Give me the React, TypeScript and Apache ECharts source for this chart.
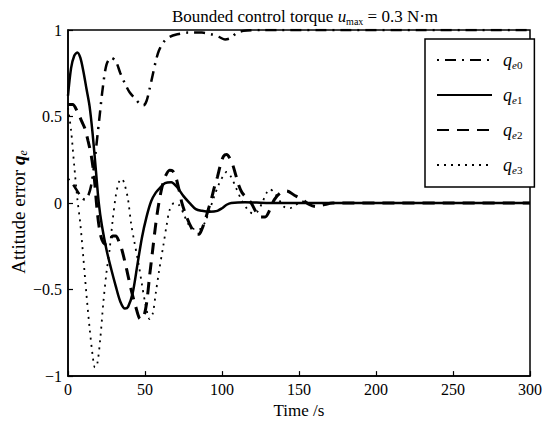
import React, { useEffect, useRef } from "react";
import * as echarts from "echarts";

const xTicks = [0, 50, 100, 150, 200, 250, 300];
const yTicks = [-1, -0.5, 0, 0.5, 1];
const seriesNames = ["qe0", "qe1", "qe2", "qe3"];
const seriesSubs = ["0", "1", "2", "3"];

const qe0: [number, number][] = [
  [0, 0.14], [3, 0.11], [6, 0.07], [9, 0.03], [11, 0.02], [13, 0.04], [15, 0.1], [17, 0.22],
  [19, 0.38], [20.5, 0.5], [22.5, 0.66], [25, 0.8], [28, 0.84], [31, 0.82], [34, 0.75],
  [37, 0.69], [40, 0.64], [44, 0.6], [47, 0.57], [49, 0.565], [51, 0.59], [53, 0.66],
  [55, 0.74], [57, 0.82], [59, 0.88], [62, 0.93], [66, 0.96], [71, 0.975], [78, 0.985],
  [87, 0.985], [93, 0.975], [98, 0.96], [102, 0.945], [106, 0.955], [109, 0.98], [114, 0.995],
  [125, 1], [300, 1],
];
const qe1: [number, number][] = [
  [0, 0.62], [2, 0.78], [4, 0.85], [6, 0.87], [8, 0.84], [10, 0.76], [12, 0.66], [14, 0.56],
  [16, 0.4], [18, 0.2], [20, 0.0], [22, -0.13], [25, -0.27], [28, -0.38], [31, -0.48],
  [34, -0.57], [37, -0.61], [39, -0.6], [42, -0.52], [45, -0.36], [48, -0.2], [51, -0.08],
  [54, 0.01], [57, 0.06], [60, 0.09], [63, 0.115], [67, 0.12], [71, 0.09], [75, 0.04],
  [79, 0.0], [83, -0.035], [87, -0.045], [92, -0.05], [97, -0.045], [100, -0.03],
  [103, -0.01], [106, 0.0], [115, 0.005], [130, 0.0], [300, 0],
];
const qe2: [number, number][] = [
  [0, 0.57], [3, 0.57], [6, 0.53], [9, 0.47], [11, 0.43], [13, 0.36], [15, 0.28], [17, 0.15],
  [19, -0.05], [21, -0.18], [23, -0.23], [25, -0.24], [27, -0.22], [29, -0.19], [31, -0.19],
  [33, -0.22], [35, -0.27], [38, -0.38], [41, -0.5], [44, -0.6], [47, -0.67], [49, -0.66],
  [51, -0.58], [53, -0.42], [55, -0.27], [57, -0.12], [59, 0.0], [61, 0.09], [63, 0.15],
  [66, 0.19], [68, 0.185], [70, 0.15], [72, 0.08], [74, 0.0], [77, -0.08], [80, -0.14],
  [83, -0.18], [85, -0.18], [87, -0.15], [89, -0.1], [91, -0.04], [93, 0.02], [95, 0.09],
  [97, 0.15], [99, 0.22], [101, 0.27], [103, 0.28], [105, 0.26], [107, 0.22], [109, 0.16],
  [111, 0.1], [113, 0.06], [116, 0.03], [119, 0.0], [122, -0.05], [125, -0.08], [128, -0.08],
  [131, -0.04], [134, 0.02], [138, 0.06], [142, 0.07], [147, 0.045], [152, 0.02],
  [157, -0.01], [161, -0.02], [166, -0.01], [172, 0], [300, 0],
];
const qe3: [number, number][] = [
  [0, 0.55], [2, 0.42], [4, 0.22], [6, 0.03], [8, -0.12], [10, -0.32], [12, -0.53],
  [14, -0.72], [16, -0.88], [17.5, -0.95], [19, -0.93], [21, -0.78], [23, -0.57], [25, -0.4],
  [27, -0.27], [29, -0.1], [31, 0.04], [33, 0.12], [35, 0.14], [37, 0.1], [39, 0.02],
  [41, -0.12], [43, -0.22], [46, -0.36], [48, -0.47], [50, -0.57], [53, -0.67], [55, -0.64],
  [57, -0.52], [59, -0.4], [62, -0.24], [64, -0.13], [66, -0.04], [69, 0.0], [72, -0.01],
  [75, -0.06], [78, -0.12], [82, -0.15], [86, -0.15], [89, -0.11], [92, -0.04], [95, 0.04],
  [98, 0.11], [101, 0.16], [103, 0.18], [106, 0.15], [109, 0.09], [112, 0.03], [116, -0.03],
  [120, -0.06], [123, -0.05], [126, 0.0], [129, 0.06], [131, 0.08], [134, 0.06], [137, 0.02],
  [140, -0.02], [144, -0.03], [148, -0.01], [152, 0.01], [158, 0], [300, 0],
];

const FONT = "Liberation Serif";

export default function App() {
  const ref = useRef<HTMLDivElement>(null);
  useEffect(() => {
    if (!ref.current) return;
    const chart = echarts.init(ref.current, undefined, { renderer: "svg" });
    const datas = [qe0, qe1, qe2, qe3];
    const styles = [
      { type: [2, 6, 11, 6], width: 2.5 },
      { type: "solid", width: 2.5 },
      { type: [12, 8], width: 3 },
      { type: [2, 5], width: 1.8 },
    ];
    const subRich = {
      q: { fontFamily: FONT, fontStyle: "italic", fontSize: 18, color: "#000", padding: [0, 0, 0, 6], lineHeight: 20 },
      e: { fontFamily: FONT, fontStyle: "italic", fontSize: 11, color: "#000", verticalAlign: "bottom", lineHeight: 11 },
      n: { fontFamily: FONT, fontSize: 11, color: "#000", verticalAlign: "bottom", lineHeight: 11 },
    };
    chart.setOption({
      animation: false,
      backgroundColor: "#fff",
      grid: { left: 68, right: 5, top: 30, bottom: 43, show: true, borderColor: "#000", borderWidth: 1.5, backgroundColor: "transparent" },
      xAxis: {
        type: "value", min: 0, max: 300, interval: 50,
        axisLine: { onZero: false, lineStyle: { color: "#000", width: 1.5 } },
        axisTick: { inside: true, length: 5, lineStyle: { color: "#000", width: 1.2 } },
        axisLabel: { color: "#000", fontFamily: FONT, fontSize: 16, margin: 5, formatter: (v: number) => (xTicks.includes(v) ? String(v) : "") },
        splitLine: { show: false },
        name: "Time /s", nameLocation: "middle", nameGap: 23,
        nameTextStyle: { color: "#000", fontFamily: FONT, fontSize: 17 },
      },
      yAxis: {
        type: "value", min: -1, max: 1, interval: 0.5,
        axisLine: { onZero: false, lineStyle: { color: "#000", width: 1.5 } },
        axisTick: { inside: true, length: 5, lineStyle: { color: "#000", width: 1.2 } },
        axisLabel: {
          color: "#000", fontFamily: FONT, fontSize: 16, margin: 6,
          formatter: (v: number) => (yTicks.includes(v) ? (v < 0 ? "\u2212" + Math.abs(v) : String(v)) : ""),
        },
        splitLine: { show: false },
      },
      legend: {
        orient: "vertical", left: 425, top: 39,
        padding: [12, 12, 12, 11], itemGap: 16, itemWidth: 55, itemHeight: 14,
        borderColor: "#000", borderWidth: 1.5, backgroundColor: "#fff",
        itemStyle: { opacity: 0 },
        data: seriesNames,
        formatter: (name: string) => `{q|q}{e|e}{n|${seriesSubs[seriesNames.indexOf(name)]}}`,
        textStyle: { rich: subRich },
      },
      graphic: [
        {
          type: "text", x: 305, y: 16, z: 10,
          style: {
            text: "{n|Bounded control torque }{u|u}{s|max}{n| = 0.3 N\u00b7m}",
            align: "center", verticalAlign: "middle",
            rich: {
              n: { fontFamily: FONT, fontSize: 17, color: "#000", lineHeight: 20 },
              u: { fontFamily: FONT, fontSize: 17, fontStyle: "italic", color: "#000", lineHeight: 20 },
              s: { fontFamily: FONT, fontSize: 10, color: "#000", verticalAlign: "bottom", lineHeight: 10 },
            },
          },
        },
        {
          type: "text", x: 18, y: 212, rotation: Math.PI / 2, z: 10,
          style: {
            text: "{n|Attitude error }{q|q}{e|e}",
            align: "center", verticalAlign: "middle",
            rich: {
              n: { fontFamily: FONT, fontSize: 19, color: "#000", lineHeight: 22 },
              q: { fontFamily: FONT, fontSize: 19, fontStyle: "italic", fontWeight: "bold", color: "#000", lineHeight: 22 },
              e: { fontFamily: FONT, fontSize: 12, fontStyle: "italic", color: "#000", verticalAlign: "bottom", lineHeight: 12 },
            },
          },
        },
      ],
      series: seriesNames.map((name, i) => ({
        name, type: "line", data: datas[i], smooth: 0.3, showSymbol: false, symbol: "none",
        lineStyle: { color: "#000", type: styles[i].type, width: styles[i].width },
        itemStyle: { color: "#000" },
        clip: true,
      })),
    });
    return () => chart.dispose();
  }, []);
  return <div ref={ref} style={{ width: 545, height: 424, position: "absolute", left: 0, top: 0 }} />;
}
